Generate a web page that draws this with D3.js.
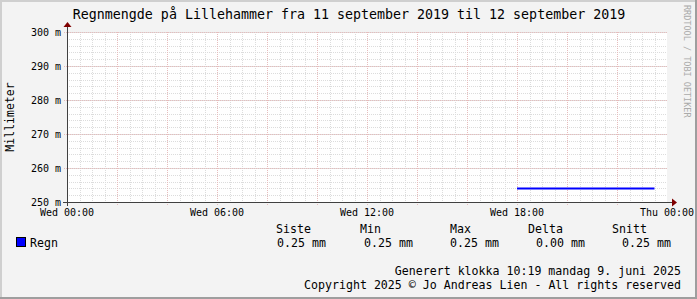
<!DOCTYPE html>
<html>
<head>
<meta charset="utf-8">
<script src="https://cdn.jsdelivr.net/npm/d3@7"></script>
<style>
  body { margin: 0; background: #f3f3f3; }
  svg text { font-family: "DejaVu Sans Mono", monospace; fill: #000; }
</style>
</head>
<body>
<script>
var title = "Regnmengde på Lillehammer fra 11 september 2019 til 12 september 2019";
var timeRange = ["2019-09-11T00:00:00Z", "2019-09-12T00:00:00Z"];
var regnTimes = ["2019-09-11T18:00:00Z", "2019-09-11T19:00:00Z", "2019-09-11T20:00:00Z",
                 "2019-09-11T21:00:00Z", "2019-09-11T22:00:00Z", "2019-09-11T23:00:00Z",
                 "2019-09-11T23:30:00Z"];
var regnValues = [0.254, 0.254, 0.254, 0.254, 0.254, 0.254, 0.254];
var yTicks = [0.25, 0.26, 0.27, 0.28, 0.29, 0.30];
var legendHeads = ["Siste", "Min", "Max", "Delta", "Snitt"];

var W = 697, H = 299;
var margin = {top: 32, left: 67},
    width = 600,
    height = 170;

var svg = d3.select("body").append("svg")
    .attr("width", W)
    .attr("height", H);

// background + 3d border
svg.append("rect").attr("width", W).attr("height", H).attr("fill", "#f3f3f3");
svg.append("rect").attr("x", 0).attr("y", 0).attr("width", 2).attr("height", H).attr("fill", "#cfcfcf");
svg.append("rect").attr("x", 0).attr("y", 0).attr("width", W).attr("height", 2).attr("fill", "#cfcfcf");
svg.append("rect").attr("x", W - 2).attr("y", 0).attr("width", 2).attr("height", H).attr("fill", "#9e9e9e");
svg.append("rect").attr("x", 0).attr("y", H - 2).attr("width", W).attr("height", 2).attr("fill", "#9e9e9e");

var x = d3.scaleUtc()
    .domain(timeRange.map(function(d) { return new Date(d); }))
    .range([0, width]);
var y = d3.scaleLinear()
    .domain([0.25, 0.30])
    .range([height, 0]);

var g = svg.append("g")
    .attr("transform", "translate(" + margin.left + "," + margin.top + ")");

g.append("rect").attr("width", width).attr("height", height).attr("fill", "#fff");

// minor grid
var minorX = d3.utcMinute.every(30).range(x.domain()[0], x.domain()[1]);
var minorY = d3.range(0.25, 0.3001, 0.002);
g.selectAll(".gx").data(minorX).enter().append("line")
    .attr("x1", function(d) { return Math.round(x(d)) + 0.5; })
    .attr("x2", function(d) { return Math.round(x(d)) + 0.5; })
    .attr("y1", 0).attr("y2", height)
    .attr("stroke", "#dcdcdc").attr("stroke-dasharray", "1,1");
g.selectAll(".gy").data(minorY).enter().append("line")
    .attr("y1", function(d) { return Math.round(y(d)) + 0.5; })
    .attr("y2", function(d) { return Math.round(y(d)) + 0.5; })
    .attr("x1", 0).attr("x2", width)
    .attr("stroke", "#dcdcdc").attr("stroke-dasharray", "1,1");

// major grid
var majorX = d3.utcHour.every(2).range(x.domain()[0], x.domain()[1]);
g.selectAll(".mx").data(majorX).enter().append("line")
    .attr("x1", function(d) { return Math.round(x(d)) + 0.5; })
    .attr("x2", function(d) { return Math.round(x(d)) + 0.5; })
    .attr("y1", 0).attr("y2", height + 3)
    .attr("stroke", "#e6bcbc").attr("stroke-dasharray", "1,1");
g.selectAll(".my").data(yTicks).enter().append("line")
    .attr("y1", function(d) { return Math.round(y(d)) + 0.5; })
    .attr("y2", function(d) { return Math.round(y(d)) + 0.5; })
    .attr("x1", -3).attr("x2", width)
    .attr("stroke", "#e6bcbc").attr("stroke-dasharray", "1,1");

// data line
var line = d3.line()
    .x(function(d, i) { return x(new Date(regnTimes[i])); })
    .y(function(d) { return y(d); });
g.append("path")
    .attr("d", line(regnValues))
    .attr("fill", "none")
    .attr("stroke", "#0000ff")
    .attr("stroke-width", 2);

// axes
g.append("line").attr("x1", -4).attr("x2", width + 5)
    .attr("y1", height + 0.5).attr("y2", height + 0.5)
    .attr("stroke", "#404040");
g.append("line").attr("x1", 0.5).attr("x2", 0.5)
    .attr("y1", height + 4).attr("y2", -5)
    .attr("stroke", "#404040");
g.append("path")
    .attr("d", "M" + (width + 5) + "," + (height - 3.5) + "L" + (width + 10) + "," + (height + 0.5) + "L" + (width + 5) + "," + (height + 4.5) + "Z")
    .attr("fill", "#7f0000");
g.append("path")
    .attr("d", "M-3.5,-5L0.5,-10L4.5,-5Z")
    .attr("fill", "#7f0000");

// tick labels
var fmt = d3.utcFormat("%a %H:%M");
g.selectAll(".xl").data(x.ticks(d3.utcHour.every(6))).enter().append("text")
    .attr("x", function(d) { return x(d); })
    .attr("y", height + 14)
    .attr("text-anchor", "middle")
    .attr("font-size", "10px")
    .text(function(d) { return fmt(d); });
g.selectAll(".yl").data(yTicks).enter().append("text")
    .attr("x", -6)
    .attr("y", function(d) { return y(d) + 4; })
    .attr("text-anchor", "end")
    .attr("font-size", "10px")
    .text(function(d) { return Math.round(d * 1000) + " m"; });

// title and labels
svg.append("text").attr("x", 349).attr("y", 19)
    .attr("text-anchor", "middle").attr("font-size", "13.3px").text(title);
svg.append("text").attr("transform", "translate(14,117) rotate(-90)")
    .attr("text-anchor", "middle").attr("font-size", "11.5px").text("Millimeter");
svg.append("text").attr("transform", "translate(684,5) rotate(90)")
    .attr("text-anchor", "start").attr("font-size", "8.5px")
    .style("fill", "#aaaaaa").text("RRDTOOL / TOBI OETIKER");

// legend
var last = regnValues[regnValues.length - 1],
    mn = d3.min(regnValues), mx = d3.max(regnValues),
    avg = d3.mean(regnValues);
var legendVals = [last, mn, mx, mx - mn, avg].map(function(v) { return v.toFixed(2) + " mm"; });
var headX = [276, 360, 450, 528, 612];
var valX = [277, 364, 450, 536, 622];
svg.selectAll(".lh").data(legendHeads).enter().append("text")
    .attr("x", function(d, i) { return headX[i]; })
    .attr("y", 233)
    .attr("font-size", "11.6px")
    .text(function(d) { return d; });
svg.selectAll(".lv").data(legendVals).enter().append("text")
    .attr("x", function(d, i) { return valX[i]; })
    .attr("y", 247)
    .attr("font-size", "11.6px")
    .text(function(d) { return d; });
svg.append("rect").attr("x", 16.5).attr("y", 237.5).attr("width", 9).attr("height", 9)
    .attr("fill", "#0000ff").attr("stroke", "#000");
svg.append("text").attr("x", 30).attr("y", 247).attr("font-size", "11.6px").text("Regn");

svg.append("text").attr("x", 681).attr("y", 275).attr("text-anchor", "end")
    .attr("font-size", "11.6px").text("Generert klokka 10:19 mandag 9. juni 2025");
svg.append("text").attr("x", 681).attr("y", 289).attr("text-anchor", "end")
    .attr("font-size", "11.6px").text("Copyright 2025 © Jo Andreas Lien - All rights reserved");
</script>
</body>
</html>
